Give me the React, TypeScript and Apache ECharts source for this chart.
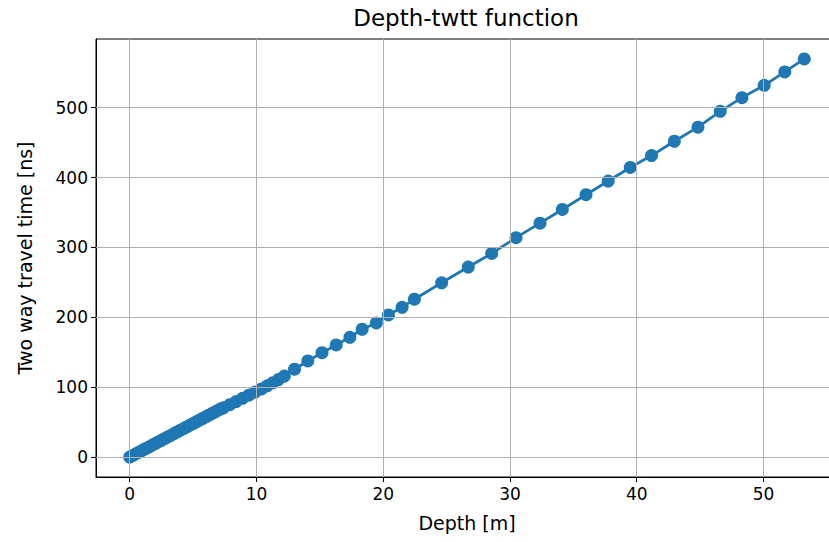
import React, { useEffect, useRef } from "react";
import * as echarts from "echarts";

// Depth [m] of each sample
const depth: number[] = [
  0.0, 0.25, 0.5, 0.75, 1.0, 1.25, 1.5, 1.75, 2.0, 2.25, 2.5, 2.75, 3.0, 3.25, 3.5,
  3.75, 4.0, 4.25, 4.5, 4.75, 5.0, 5.25, 5.5, 5.75, 6.0, 6.25, 6.5, 6.75, 7.0, 7.25,
  7.4, 7.9, 8.4, 8.9, 9.4, 9.9, 10.4, 10.85, 11.3, 11.75, 12.2,
  13.0, 14.05, 15.17, 16.29, 17.37, 18.34, 19.46, 20.41, 21.49, 22.46,
  24.61, 26.71, 28.56, 30.48, 32.37, 34.13, 36.0, 37.75, 39.49, 41.17,
  42.97, 44.83, 46.59, 48.3, 50.06, 51.68, 53.22,
];

// Two way travel time [ns] of each sample
const twtt: number[] = [
  0.0, 2.4, 4.8, 7.2, 9.6, 12.0, 14.4, 16.8, 19.2, 21.6, 24.0, 26.4, 28.8, 31.2, 33.6,
  36.0, 38.4, 40.8, 43.2, 45.6, 48.0, 50.4, 52.8, 55.2, 57.6, 60.0, 62.4, 64.8, 67.2, 69.6,
  70.5, 75.0, 79.5, 84.0, 88.5, 93.0, 97.5, 102.0, 106.5, 111.0, 116.0,
  125.7, 137.5, 149.4, 160.4, 171.4, 182.9, 191.9, 203.3, 214.3, 225.9,
  249.4, 271.9, 291.4, 314.0, 334.7, 354.3, 375.4, 395.0, 414.4, 431.4,
  451.9, 472.1, 494.7, 514.3, 531.9, 551.1, 569.7,
];

const xTicks: number[] = [0, 10, 20, 30, 40, 50];
const yTicks: number[] = [0, 100, 200, 300, 400, 500];

const FONT = "DejaVu Sans";
const BLUE = "#1f77b4";
const GRID = "#b0b0b0";

export default function App() {
  const ref = useRef<HTMLDivElement>(null);

  useEffect(() => {
    if (!ref.current) return;
    const chart = echarts.init(ref.current, null, { renderer: "svg" });

    const xMin = -2.66;
    const xMax = 55.88;
    const yMin = -28.5;
    const yMax = 598.2;

    const gridLines = [
      ...xTicks.map((v) => ({ xAxis: v })),
      ...yTicks.map((v) => ({ yAxis: v })),
    ];

    chart.setOption({
      animation: false,
      backgroundColor: "#ffffff",
      graphic: [
        {
          type: "text",
          x: 466,
          y: 18,
          style: {
            text: "Depth-twtt function",
            font: `23px '${FONT}'`,
            fill: "#000",
            textAlign: "center",
            textVerticalAlign: "middle",
          },
        },
      ],
      grid: {
        left: 96,
        right: 4,
        top: 39,
        bottom: 65,
        show: true,
        borderColor: "#000",
        borderWidth: 1,
        backgroundColor: "transparent",
      },
      xAxis: {
        type: "value",
        min: xMin,
        max: xMax,
        name: "Depth [m]",
        nameLocation: "middle",
        nameGap: 36,
        nameTextStyle: { fontFamily: FONT, fontSize: 19, color: "#000" },
        axisLine: { show: true, onZero: false, lineStyle: { color: "#000", width: 1 } },
        axisTick: {
          show: true,
          customValues: xTicks,
          length: 5,
          lineStyle: { color: "#000", width: 1 },
        },
        axisLabel: {
          customValues: xTicks,
          fontFamily: FONT,
          fontSize: 17,
          color: "#000",
          margin: 8,
          formatter: (v: number) => String(v),
        },
        splitLine: { show: false },
      },
      yAxis: {
        type: "value",
        min: yMin,
        max: yMax,
        name: "Two way travel time [ns]",
        nameLocation: "middle",
        nameGap: 62,
        nameTextStyle: { fontFamily: FONT, fontSize: 19, color: "#000" },
        axisLine: { show: true, onZero: false, lineStyle: { color: "#000", width: 1 } },
        axisTick: {
          show: true,
          customValues: yTicks,
          length: 5,
          lineStyle: { color: "#000", width: 1 },
        },
        axisLabel: {
          customValues: yTicks,
          fontFamily: FONT,
          fontSize: 17,
          color: "#000",
          margin: 8,
          formatter: (v: number) => String(v),
        },
        splitLine: { show: false },
      },
      series: [
        {
          // grid lines at the tick positions, kept beneath the data
          type: "line",
          data: [],
          z: 1,
          silent: true,
          markLine: {
            silent: true,
            symbol: "none",
            label: { show: false },
            lineStyle: { color: GRID, width: 1, type: "solid" },
            data: gridLines,
          },
        },
        {
          type: "line",
          z: 3,
          data: depth.map((d, i) => [d, twtt[i]]),
          symbol: "circle",
          symbolSize: 13,
          showAllSymbol: true,
          itemStyle: { color: BLUE },
          lineStyle: { color: BLUE, width: 2.8 },
        },
      ],
    });

    return () => chart.dispose();
  }, []);

  return (
    <div
      ref={ref}
      style={{ position: "absolute", left: 0, top: 0, width: 842, height: 542 }}
    />
  );
}
